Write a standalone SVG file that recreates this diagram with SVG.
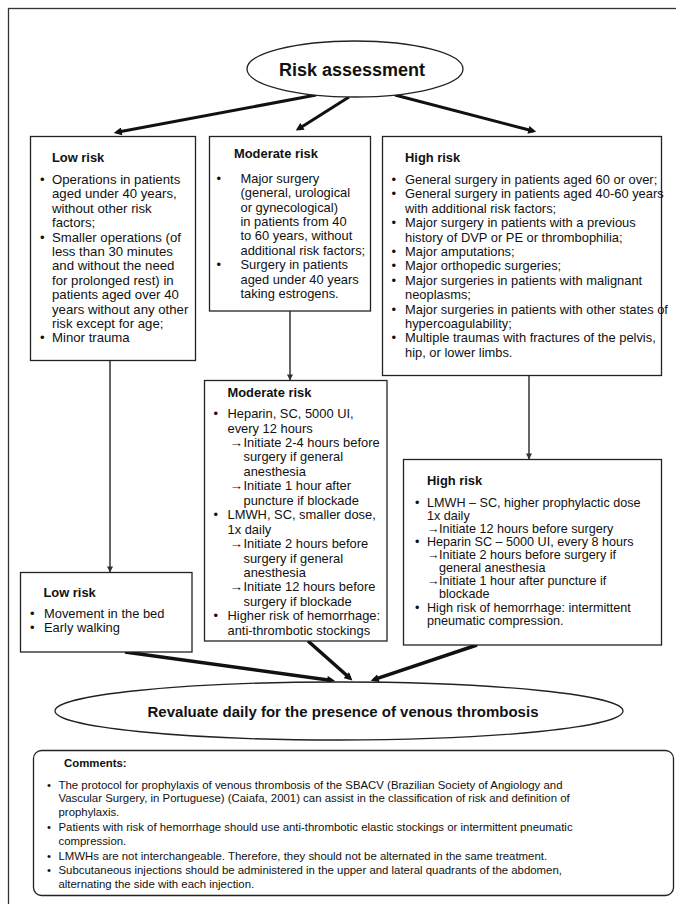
<svg xmlns="http://www.w3.org/2000/svg" width="676" height="904" viewBox="0 0 676 904">
<defs>
<style>
.t{font-family:"Liberation Sans",Arial,Helvetica,sans-serif;font-size:12.9px;fill:#111}
.b{font-weight:bold}
.ar{font-size:13.5px}
.c{font-family:"Liberation Sans",Arial,Helvetica,sans-serif;font-size:11.4px;fill:#111}
.box{fill:#fff;stroke:#222;stroke-width:1.3}
.thick{fill:none;stroke:#111;stroke-width:3;marker-end:url(#ah)}
.thin{fill:none;stroke:#333;stroke-width:1.5;marker-end:url(#as)}
</style>
<marker id="ah" viewBox="0 0 10 10" refX="6" refY="5" markerWidth="9" markerHeight="8" markerUnits="userSpaceOnUse" orient="auto">
<path d="M0,0 L10,5 L0,10 z" fill="#111"/>
</marker>
<marker id="as" viewBox="0 0 10 10" refX="9" refY="5" markerWidth="7" markerHeight="6" markerUnits="userSpaceOnUse" orient="auto">
<path d="M0,0 L10,5 L0,10 z" fill="#333"/>
</marker>
</defs>
<rect x="0" y="0" width="676" height="904" fill="#fff"/>
<rect x="8.5" y="8.5" width="700" height="920" fill="none" stroke="#333" stroke-width="1.3"/>

<g id="connectors">
<line class="thick" x1="316" y1="95" x2="116.9" y2="132.3"/>
<line class="thick" x1="349" y1="97" x2="298.4" y2="128.9"/>
<line class="thick" x1="395" y1="95" x2="533.1" y2="131"/>
<line class="thin" x1="110" y1="360.5" x2="110" y2="572"/>
<line class="thin" x1="290" y1="311" x2="290" y2="380"/>
<line class="thin" x1="529" y1="375.5" x2="529" y2="459"/>
<line class="thick" style="stroke-width:3.5" x1="125" y1="652" x2="332" y2="680.5"/>
<line class="thick" style="stroke-width:3.5" x1="308" y1="641" x2="350" y2="678.3"/>
<line class="thick" style="stroke-width:3.5" x1="477" y1="645" x2="373.8" y2="679.7"/>
</g>

<g id="risk-assessment">
<ellipse cx="355" cy="69" rx="108" ry="28" fill="#fff" stroke="#222" stroke-width="1.3"/>
<text class="t b" x="352" y="76" text-anchor="middle" style="font-size:18px">Risk assessment</text>
</g>

<g id="low-risk">
<rect class="box" x="30.5" y="136.5" width="165" height="224"/>
<text class="t b" x="52" y="162">Low risk</text>
<text class="t" style="font-size:13.2px">
<tspan x="40" y="184">•</tspan><tspan x="52" y="184">Operations in patients</tspan>
<tspan x="52" y="198.4">aged under 40 years,</tspan>
<tspan x="52" y="212.8">without other risk</tspan>
<tspan x="52" y="227.2">factors;</tspan>
<tspan x="40" y="241.6">•</tspan><tspan x="52" y="241.6">Smaller operations (of</tspan>
<tspan x="52" y="256">less than 30 minutes</tspan>
<tspan x="52" y="270.4">and without the need</tspan>
<tspan x="52" y="284.8">for prolonged rest) in</tspan>
<tspan x="52" y="299.2">patients aged over 40</tspan>
<tspan x="52" y="313.6">years without any other</tspan>
<tspan x="52" y="328">risk except for age;</tspan>
<tspan x="40" y="342.4">•</tspan><tspan x="52" y="342.4">Minor trauma</tspan>
</text>
</g>

<g id="moderate-risk">
<rect class="box" x="209.5" y="136.5" width="161" height="174.5"/>
<text class="t b" x="234" y="157.5">Moderate risk</text>
<text class="t">
<tspan x="216.5" y="182.7">•</tspan><tspan x="240.5" y="182.7">Major surgery</tspan>
<tspan x="240.5" y="197.1">(general, urological</tspan>
<tspan x="240.5" y="211.5">or gynecological)</tspan>
<tspan x="240.5" y="225.9">in patients from 40</tspan>
<tspan x="240.5" y="240.3">to 60 years, without</tspan>
<tspan x="240.5" y="254.7">additional risk factors;</tspan>
<tspan x="216.5" y="269.1">•</tspan><tspan x="240.5" y="269.1">Surgery in patients</tspan>
<tspan x="240.5" y="283.5">aged under 40 years</tspan>
<tspan x="240.5" y="297.9">taking estrogens.</tspan>
</text>
</g>

<g id="high-risk">
<rect class="box" x="382.5" y="136.5" width="279" height="239"/>
<text class="t b" x="405" y="162">High risk</text>
<text class="t">
<tspan x="391.5" y="184">•</tspan><tspan x="405" y="184">General surgery in patients aged 60 or over;</tspan>
<tspan x="391.5" y="198.4">•</tspan><tspan x="405" y="198.4">General surgery in patients aged 40-60 years</tspan>
<tspan x="405" y="212.8">with additional risk factors;</tspan>
<tspan x="391.5" y="227.2">•</tspan><tspan x="405" y="227.2">Major surgery in patients with a previous</tspan>
<tspan x="405" y="241.6">history of DVP or PE or thrombophilia;</tspan>
<tspan x="391.5" y="256">•</tspan><tspan x="405" y="256">Major amputations;</tspan>
<tspan x="391.5" y="270.4">•</tspan><tspan x="405" y="270.4">Major orthopedic surgeries;</tspan>
<tspan x="391.5" y="284.8">•</tspan><tspan x="405" y="284.8">Major surgeries in patients with malignant</tspan>
<tspan x="405" y="299.2">neoplasms;</tspan>
<tspan x="391.5" y="313.6">•</tspan><tspan x="405" y="313.6">Major surgeries in patients with other states of</tspan>
<tspan x="405" y="328">hypercoagulability;</tspan>
<tspan x="391.5" y="342.4">•</tspan><tspan x="405" y="342.4">Multiple traumas with fractures of the pelvis,</tspan>
<tspan x="405" y="356.8">hip, or lower limbs.</tspan>
</text>
</g>

<g id="moderate-prophylaxis">
<rect class="box" x="204.5" y="380.5" width="182.5" height="260.5"/>
<text class="t b" x="227.5" y="397">Moderate risk</text>
<text class="t">
<tspan x="213.5" y="418">•</tspan><tspan x="227.5" y="418">Heparin, SC, 5000 UI,</tspan>
<tspan x="227.5" y="432.5">every 12 hours</tspan>
<tspan class="ar" x="229.5" y="446.9">→</tspan><tspan x="243.5" y="446.9">Initiate 2-4 hours before</tspan>
<tspan x="243.5" y="461.4">surgery if general</tspan>
<tspan x="243.5" y="475.8">anesthesia</tspan>
<tspan class="ar" x="229.5" y="490.3">→</tspan><tspan x="243.5" y="490.3">Initiate 1 hour after</tspan>
<tspan x="243.5" y="504.7">puncture if blockade</tspan>
<tspan x="213.5" y="519.2">•</tspan><tspan x="227.5" y="519.2">LMWH, SC, smaller dose,</tspan>
<tspan x="227.5" y="533.6">1x daily</tspan>
<tspan class="ar" x="229.5" y="548.1">→</tspan><tspan x="243.5" y="548.1">Initiate 2 hours before</tspan>
<tspan x="243.5" y="562.5">surgery if general</tspan>
<tspan x="243.5" y="577">anesthesia</tspan>
<tspan class="ar" x="229.5" y="591.4">→</tspan><tspan x="243.5" y="591.4">Initiate 12 hours before</tspan>
<tspan x="243.5" y="605.9">surgery if blockade</tspan>
<tspan x="213.5" y="620.3">•</tspan><tspan x="227.5" y="620.3">Higher risk of hemorrhage:</tspan>
<tspan x="227.5" y="634.8">anti-thrombotic stockings</tspan>
</text>
</g>

<g id="high-prophylaxis">
<rect class="box" x="403.5" y="459.5" width="258" height="185.5"/>
<text class="t b" x="427" y="485">High risk</text>
<text class="t" style="font-size:12.6px">
<tspan x="415" y="507">•</tspan><tspan x="427" y="507">LMWH – SC, higher prophylactic dose</tspan>
<tspan x="427" y="520">1x daily</tspan>
<tspan x="427" y="533">→</tspan><tspan x="439" y="533">Initiate 12 hours before surgery</tspan>
<tspan x="415" y="546">•</tspan><tspan x="427" y="546">Heparin SC – 5000 UI, every 8 hours</tspan>
<tspan x="427" y="559">→</tspan><tspan x="439" y="559">Initiate 2 hours before surgery if</tspan>
<tspan x="439" y="572">general anesthesia</tspan>
<tspan x="427" y="585">→</tspan><tspan x="439" y="585">Initiate 1 hour after puncture if</tspan>
<tspan x="439" y="598">blockade</tspan>
<tspan x="415" y="611.5">•</tspan><tspan x="427" y="611.5">High risk of hemorrhage: intermittent</tspan>
<tspan x="427" y="625">pneumatic compression.</tspan>
</text>
</g>

<g id="low-prophylaxis">
<rect class="box" x="20.5" y="572.5" width="171.5" height="79.5"/>
<text class="t b" x="43.5" y="597">Low risk</text>
<text class="t">
<tspan x="30" y="618">•</tspan><tspan x="44" y="618">Movement in the bed</tspan>
<tspan x="30" y="632">•</tspan><tspan x="44" y="632">Early walking</tspan>
</text>
</g>

<g id="revaluate">
<ellipse cx="339" cy="711" rx="284" ry="29" fill="#fff" stroke="#222" stroke-width="1.3"/>
<text class="t b" x="343" y="716.5" text-anchor="middle" style="font-size:15px">Revaluate daily for the presence of venous thrombosis</text>
</g>

<g id="comments">
<rect x="33.5" y="750.5" width="640" height="145" rx="8" ry="8" fill="#fff" stroke="#222" stroke-width="1.3"/>
<text class="c b" x="64" y="767">Comments:</text>
<text class="c">
<tspan x="47" y="788.5">•</tspan><tspan x="58.5" y="788.5">The protocol for prophylaxis of venous thrombosis of the SBACV (Brazilian Society of Angiology and</tspan>
<tspan x="58.5" y="802">Vascular Surgery, in Portuguese) (Caiafa, 2001) can assist in the classification of risk and definition of</tspan>
<tspan x="58.5" y="815.5">prophylaxis.</tspan>
<tspan x="47" y="831">•</tspan><tspan x="58.5" y="831">Patients with risk of hemorrhage should use anti-thrombotic elastic stockings or intermittent pneumatic</tspan>
<tspan x="58.5" y="844.5">compression.</tspan>
<tspan x="47" y="860">•</tspan><tspan x="58.5" y="860">LMWHs are not interchangeable. Therefore, they should not be alternated in the same treatment.</tspan>
<tspan x="47" y="874">•</tspan><tspan x="58.5" y="874">Subcutaneous injections should be administered in the upper and lateral quadrants of the abdomen,</tspan>
<tspan x="58.5" y="887.5">alternating the side with each injection.</tspan>
</text>
</g>
</svg>
